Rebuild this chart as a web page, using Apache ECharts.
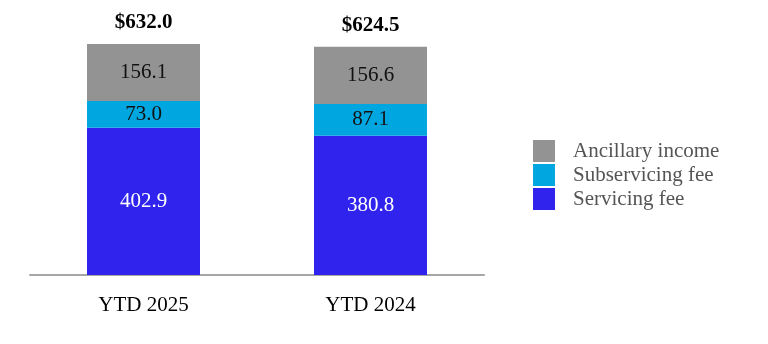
<!DOCTYPE html>
<html><head><meta charset="utf-8">
<script src="https://cdn.jsdelivr.net/npm/echarts@6/dist/echarts.min.js"></script>
<style>html,body{margin:0;padding:0;background:#fff}#c{width:768px;height:344px}</style>
</head><body><div id="c"></div>
<script>
var categories = ['YTD 2025', 'YTD 2024'];
var servicingFee = [402.9, 380.8];
var subservicingFee = [73.0, 87.1];
var ancillaryIncome = [156.1, 156.6];
var totals = [632.0, 624.5];

var FONT = "'Liberation Serif', 'Times New Roman', serif";
var chart = echarts.init(document.getElementById('c'));
function lbl(color) {
  return { show: true, position: 'inside', color: color, fontSize: 21, fontFamily: FONT,
    formatter: function (p) { return p.value.toFixed(1); } };
}
chart.setOption({
  animation: false,
  grid: { left: 30, right: 284, top: 19.2, bottom: 69 },
  legend: {
    orient: 'vertical', left: 528, top: 135, itemWidth: 22, itemHeight: 22, itemGap: 2,
    icon: 'rect',
    textStyle: { fontSize: 21, fontFamily: FONT, color: '#555555', padding: [0, 0, 0, 13] },
    data: ['Ancillary income', 'Subservicing fee', 'Servicing fee']
  },
  xAxis: {
    type: 'category', data: categories,
    axisLine: { lineStyle: { color: '#a6a6a6', width: 2 } },
    axisTick: { show: false },
    axisLabel: { fontSize: 21, fontFamily: FONT, color: '#000', margin: 20 }
  },
  yAxis: { type: 'value', min: 0, max: 700, show: false, splitLine: { show: false } },
  series: [
    { name: 'Servicing fee', type: 'bar', stack: 's', barWidth: 113, data: servicingFee,
      itemStyle: { color: '#3023EE' }, label: lbl('#ffffff') },
    { name: 'Subservicing fee', type: 'bar', stack: 's', data: subservicingFee,
      itemStyle: { color: '#00A6E0' }, label: lbl('#111111') },
    { name: 'Ancillary income', type: 'bar', stack: 's', data: ancillaryIncome,
      itemStyle: { color: '#939393' }, label: lbl('#111111') },
    { name: 'total', type: 'bar', stack: 's', data: totals.map(function(){return 0;}),
      itemStyle: { color: 'transparent' },
      label: { show: true, position: 'top', distance: 11, fontSize: 21, fontWeight: 'bold',
        fontFamily: FONT, color: '#000',
        formatter: function (p) { return '$' + totals[p.dataIndex].toFixed(1); } } }
  ]
});
</script></body></html>
